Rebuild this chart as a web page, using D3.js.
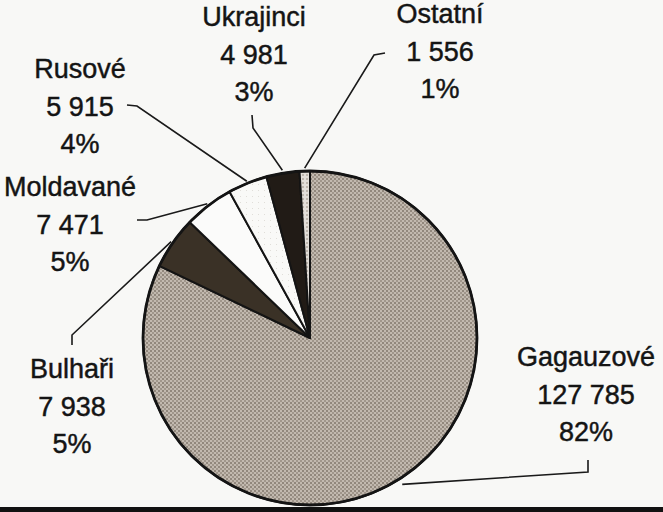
<!DOCTYPE html>
<html>
<head>
<meta charset="utf-8">
<script src="https://cdn.jsdelivr.net/npm/d3@7"></script>
<style>
  html, body { margin: 0; padding: 0; background: #f8f8f6; }
  svg { display: block; }
  text { font-family: "Liberation Sans", Arial, sans-serif; fill: #141414; stroke: #141414; stroke-width: 0.45px; }
</style>
</head>
<body>
<svg id="chart" width="663" height="512"></svg>
<script>
// ---- data ----
const categories = ["Gagauzové", "Bulhaři", "Moldavané", "Rusové", "Ukrajinci", "Ostatní"];
const values = [127785, 7938, 7471, 5915, 4981, 1556];
const fills = ["url(#stipple)", "#3a3126", "#fbfbfa", "url(#dots)", "#211b16", "url(#lightStipple)"];

// label layout (centre x, first baseline y), leader line start + elbow
const labelPos = [
  [586, 366], [72, 378], [70, 196], [80, 78], [254, 26], [440, 23]
];
const leaderStart = [
  [[588, 460], [588, 472]],
  [[72, 345], [72, 335]],
  [[137, 220], [147, 220]],
  [[127, 105], [137, 106]],
  [[252, 115], [253, 128]],
  [[385, 53], [374, 55]]
];
const leaderGap = [6, 2, 2, 2, 3, 3];

const W = 663, H = 512;
const cx = 310, cy = 338, R = 167;
const svg = d3.select("#chart");

svg.append("rect").attr("width", W).attr("height", H).attr("fill", "#f8f8f6");

// patterns
const defs = svg.append("defs");
const p1 = defs.append("pattern").attr("id", "stipple").attr("width", 4).attr("height", 4)
  .attr("patternUnits", "userSpaceOnUse");
p1.append("rect").attr("width", 4).attr("height", 4).attr("fill", "#c2b9af");
p1.append("rect").attr("x", 0).attr("y", 0).attr("width", 2).attr("height", 2).attr("fill", "#91877c");
p1.append("rect").attr("x", 2).attr("y", 2).attr("width", 2).attr("height", 2).attr("fill", "#a0968b");

const p2 = defs.append("pattern").attr("id", "lightStipple").attr("width", 4).attr("height", 4)
  .attr("patternUnits", "userSpaceOnUse");
p2.append("rect").attr("width", 4).attr("height", 4).attr("fill", "#e2ded9");
p2.append("rect").attr("x", 0).attr("y", 0).attr("width", 2).attr("height", 2).attr("fill", "#bcb5ad");

const p3 = defs.append("pattern").attr("id", "dots").attr("width", 6).attr("height", 6)
  .attr("patternUnits", "userSpaceOnUse");
p3.append("rect").attr("width", 6).attr("height", 6).attr("fill", "#f9f9f7");
p3.append("rect").attr("x", 2).attr("y", 2).attr("width", 1).attr("height", 1).attr("fill", "#e0ded9");

const total = d3.sum(values);
const data = categories.map((c, i) => ({ name: c, value: values[i], i }));

const pie = d3.pie().value(d => d.value).sort(null).startAngle(0).endAngle(2 * Math.PI);
const arcs = pie(data);
const arc = d3.arc().innerRadius(0).outerRadius(R);

const g = svg.append("g").attr("transform", `translate(${cx},${cy})`);
g.selectAll("path.slice").data(arcs).join("path")
  .attr("class", "slice")
  .attr("d", arc)
  .attr("fill", d => fills[d.data.i])
  .attr("stroke", "#141414")
  .attr("stroke-width", 2)
  .attr("stroke-linejoin", "round");

g.append("circle").attr("r", R).attr("fill", "none")
  .attr("stroke", "#141414").attr("stroke-width", 2.8);

// leader lines + labels
const fmt = d3.formatLocale({ decimal: ",", thousands: " ", grouping: [3], currency: ["", ""] }).format(",d");
arcs.forEach(a => {
  const i = a.data.i;
  const mid = (a.startAngle + a.endAngle) / 2;
  const r = R + leaderGap[i];
  const ex = cx + r * Math.sin(mid), ey = cy - r * Math.cos(mid);
  const pts = [leaderStart[i][0], leaderStart[i][1], [ex, ey]];
  svg.append("path")
    .attr("d", d3.line()(pts))
    .attr("fill", "none").attr("stroke", "#1a1a1a").attr("stroke-width", 1.6);

  const [lx, ly] = labelPos[i];
  const lines = [a.data.name, fmt(a.data.value), Math.round(a.data.value / total * 100) + "%"];
  const t = svg.append("text").attr("text-anchor", "middle").attr("font-size", 27);
  lines.forEach((s, k) => t.append("tspan").attr("x", lx).attr("y", ly + k * 37.5).text(s));
});

svg.append("rect").attr("x", 0).attr("y", 507).attr("width", W).attr("height", 5).attr("fill", "#111");
</script>
</body>
</html>
